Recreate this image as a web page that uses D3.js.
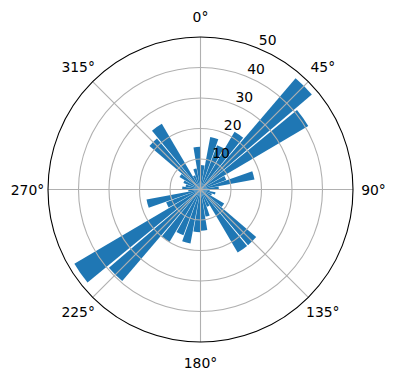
<!DOCTYPE html>
<html>
<head>
<meta charset="utf-8">
<script src="https://cdn.jsdelivr.net/npm/d3@7"></script>
<style>
  html, body { margin: 0; padding: 0; background: #fff; }
  svg { display: block; font-family: "DejaVu Sans", sans-serif; }
</style>
</head>
<body>
<svg id="chart" width="396" height="380"></svg>
<script>
// Direction bins (degrees, start of each 10° bin, clockwise from north)
const binStarts = [0,10,20,30,40,50,60,70,80,90,100,110,120,130,140,150,160,170,
                   180,190,200,210,220,230,240,250,260,270,280,290,300,310,320,330,340,350];
// Bar lengths (radial values)
const values = [8,17.5,15.5,22,48,41,9,18,6,3,5,4,9,24,24,6,9,13.5,
                14,18,16,20,39.5,48,12,18,4,6,5,6,8,22,25,5,7,14];
// Tick labels
const radialTicks = [10,20,30,40,50];
const angleTicks = [0,45,90,135,180,225,270,315];

const W = 396, H = 380;
const cx = 200.5, cy = 189.5, R = 152.5;
const binWidth = 10, barFrac = 0.9;

const svg = d3.select("#chart");
svg.append("rect").attr("width", W).attr("height", H).attr("fill", "#fff");
const g = svg.append("g").attr("transform", `translate(${cx},${cy})`);

const r = d3.scaleLinear().domain([0, 50]).range([0, R]);
const toRad = d => d * Math.PI / 180;

// Bars
const arc = d3.arc()
  .innerRadius(0)
  .outerRadius(d => r(d.v))
  .startAngle(d => toRad(d.a + binWidth * (1 - barFrac) / 2))
  .endAngle(d => toRad(d.a + binWidth * (1 + barFrac) / 2));

g.selectAll("path.bar")
  .data(binStarts.map((a, i) => ({a, v: values[i]})))
  .join("path")
  .attr("class", "bar")
  .attr("d", arc)
  .attr("fill", "#1f77b4");

// Grid circles
g.selectAll("circle.grid")
  .data(radialTicks.slice(0, -1))
  .join("circle")
  .attr("r", d => r(d))
  .attr("fill", "none")
  .attr("stroke", "#b0b0b0")
  .attr("stroke-width", 1.1);

// Radial grid lines
g.selectAll("line.grid")
  .data(angleTicks)
  .join("line")
  .attr("x1", 0).attr("y1", 0)
  .attr("x2", d => R * Math.sin(toRad(d)))
  .attr("y2", d => -R * Math.cos(toRad(d)))
  .attr("stroke", "#b0b0b0")
  .attr("stroke-width", 1.1);

// Outer spine
g.append("circle").attr("r", R).attr("fill", "none")
  .attr("stroke", "#000").attr("stroke-width", 1.1);

// Angle labels
const labR = 173;
g.selectAll("text.theta")
  .data(angleTicks)
  .join("text")
  .attr("x", d => labR * Math.sin(toRad(d)))
  .attr("y", d => -labR * Math.cos(toRad(d)))
  .attr("text-anchor", "middle")
  .attr("dominant-baseline", "central")
  .attr("font-size", "13.9px")
  .attr("fill", "#000")
  .text(d => d + "°");

// Radial labels at 22.5°
const rlab = 22.5;
g.selectAll("text.rlab")
  .data(radialTicks)
  .join("text")
  .attr("x", d => r(d) * Math.sin(toRad(rlab)))
  .attr("y", d => -r(d) * Math.cos(toRad(rlab)) - 3.3)
  .attr("text-anchor", "start")
  .attr("font-size", "13.9px")
  .attr("fill", "#000")
  .text(d => d);
</script>
</body>
</html>
